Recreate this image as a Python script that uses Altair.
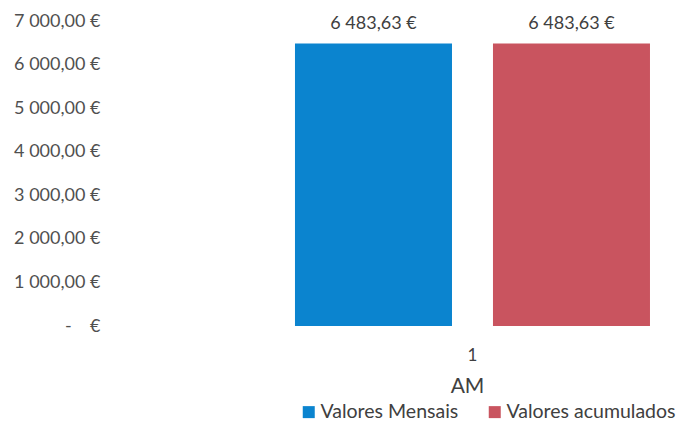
import altair as alt
import pandas as pd

categories = ["1", "1"]
series = ["Valores Mensais", "Valores acumulados"]
values = [6483.63, 6483.63]
y_ticks = [0, 1000, 2000, 3000, 4000, 5000, 6000, 7000]
colors = ["#0b84cf", "#c9545f"]

df = pd.DataFrame({"cat": categories, "serie": series, "valor": values})

NB = "\u00a0"
fmt = (
    f"replace(replace(format(datum.valor, ',.2f'), ',', '{NB}'), '.', ',') + '{NB}€'"
)
yfmt = (
    f"datum.value == 0 ? '-{NB}{NB}{NB}{NB}€' : "
    f"replace(replace(format(datum.value, ',.2f'), ',', '{NB}'), '.', ',') + '{NB}€'"
)

FONT = "Lato"

x = alt.X(
    "cat:N",
    title="AM",
    scale=alt.Scale(paddingInner=0, paddingOuter=0.2845, align=0.891),
    axis=alt.Axis(
        labelAngle=0, domain=False, ticks=False, grid=False,
        labelFont=FONT, labelFontSize=17, labelColor="#404040", labelPadding=21,
        titleFont=FONT, titleFontSize=21, titleFontWeight="normal", titleColor="#404040",
        titleX=352, titleY=66, titleBaseline="alphabetic",
    ),
)
xo = alt.XOffset(
    "serie:N", sort=series,
    scale=alt.Scale(paddingInner=0.207, paddingOuter=0),
)
y = alt.Y(
    "valor:Q",
    title=None,
    scale=alt.Scale(domain=[0, 7000], nice=False),
    axis=alt.Axis(
        values=y_ticks, labelExpr=yfmt, domain=False, ticks=False, grid=False,
        labelFont=FONT, labelFontSize=18, labelColor="#505050", labelPadding=15,
    ),
)
color = alt.Color(
    "serie:N", sort=series,
    scale=alt.Scale(domain=series, range=colors),
    legend=alt.Legend(
        title=None, orient="none", direction="horizontal",
        legendX=184, legendY=381, symbolType="square", symbolSize=144,
        symbolStrokeWidth=0, labelFont=FONT, labelFontSize=19.5, labelColor="#404040",
        columnPadding=26, labelOffset=2, labelLimit=400,
    ),
)

base = alt.Chart(df)
bars = base.mark_bar().encode(x=x, xOffset=xo, y=y, color=color)
labels = base.transform_calculate(lbl=fmt).mark_text(
    baseline="bottom", dy=-10, font=FONT, fontSize=18, color="#404040"
).encode(x=x, xOffset=xo, y=y, text="lbl:N")

chart = (
    alt.layer(bars, labels)
    .properties(
        width=557, height=305,
        autosize=alt.AutoSizeParams(type="none"),
        padding={"left": 115, "top": 21, "right": 5, "bottom": 96},
        background="white",
    )
    .configure_view(stroke=None)
)

chart.save("out.html", embed_options={"renderer": "svg", "actions": False})
